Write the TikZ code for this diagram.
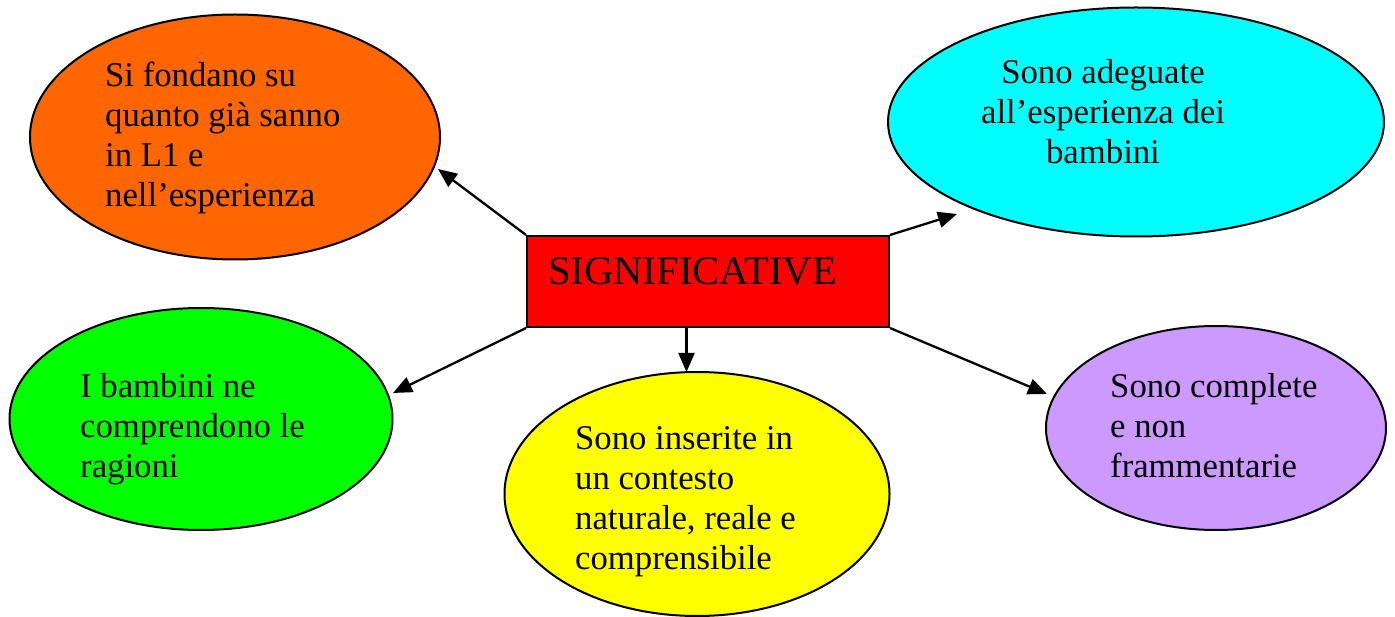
\documentclass[tikz,border=0pt]{standalone}
\usepackage{fontspec}
\setmainfont{Liberation Serif}
\usetikzlibrary{shapes.geometric,arrows.meta}
\begin{document}
\begin{tikzpicture}[x=1pt,y=-1pt,
  bubble/.style={ellipse,draw=black,line width=2pt,inner sep=0pt},
  lbl/.style={inner sep=0pt,font=\fontsize{34.7}{40}\selectfont},
  conn/.style={line width=2.3pt,-{Triangle[length=19pt,width=16pt]}}]
\useasboundingbox (0,0) rectangle (1395,617);
\definecolor{corange}{RGB}{255,102,0}
\definecolor{ccyan}{RGB}{0,255,255}
\definecolor{cred}{RGB}{255,0,0}
\definecolor{cgreen}{RGB}{0,255,0}
\definecolor{cyellow}{RGB}{255,255,0}
\definecolor{cpurple}{RGB}{204,153,255}
% shapes
\node[bubble,fill=corange,minimum width=410pt,minimum height=245pt] (orange) at (235,137) {};
\node[bubble,fill=ccyan,minimum width=496pt,minimum height=229pt] (cyan) at (1136,122) {};
\node[bubble,fill=cgreen,minimum width=383pt,minimum height=222pt] (green) at (201,419) {};
\node[bubble,fill=cyellow,minimum width=385pt,minimum height=244pt] (yellow) at (697,494) {};
\node[bubble,fill=cpurple,minimum width=340pt,minimum height=204pt] (purple) at (1216,428) {};
\node[draw=black,fill=cred,line width=2pt,minimum width=362pt,minimum height=91pt,inner sep=0pt] (rect) at (708,281.5) {};
% texts (base anchor = baseline of last line)
\node[lbl,anchor=base west,align=left] (torange) at (105,207) {Si fondano su\\quanto già sanno\\in L1 e\\nell’esperienza};
\node[lbl,anchor=base,align=center] (tcyan) at (1103,164) {Sono adeguate\\all’esperienza dei\\bambini};
\node[inner sep=0pt,anchor=base west,font=\fontsize{40.6}{46}\selectfont] (trect) at (548,285) {SIGNIFICATIVE};
\node[lbl,anchor=base west,align=left] (tgreen) at (80,477) {I bambini ne\\comprendono le\\ragioni};
\node[lbl,anchor=base west,align=left] (tyellow) at (575,569) {Sono inserite in\\un contesto\\naturale, reale e\\comprensibile};
\node[lbl,anchor=base west,align=left] (tpurple) at (1110,477) {Sono complete\\e non\\frammentarie};
% arrow end points
\coordinate (aorange) at (438,169);
\coordinate (acyan) at (957,214);
\coordinate (agreen) at (393,393);
\coordinate (ayellow) at (686.5,372);
\coordinate (apurple) at (1047,394);
\coordinate (syellow) at (686.5,327);
\draw[conn] (rect.north west) -- (aorange);
\draw[conn] (rect.north east) -- (acyan);
\draw[conn] (rect.south west) -- (agreen);
\draw[conn] (syellow) -- (ayellow);
\draw[conn] (rect.south east) -- (apurple);
\end{tikzpicture}
\end{document}
